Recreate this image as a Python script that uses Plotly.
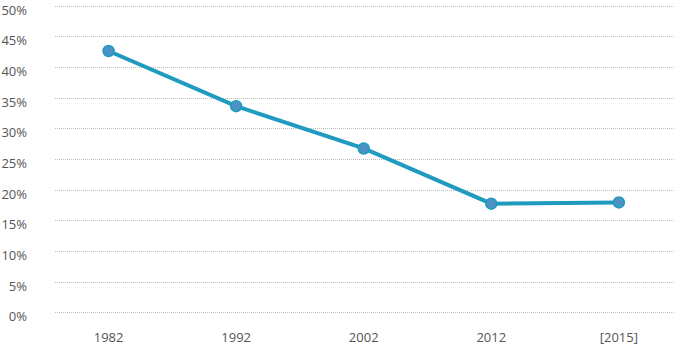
import plotly.graph_objects as go

years = ["1982", "1992", "2002", "2012", "[2015]"]
share = [42.7, 33.7, 26.8, 17.8, 18.0]
y_ticks = [0, 5, 10, 15, 20, 25, 30, 35, 40, 45, 50]
y_labels = [f"{v}%" for v in y_ticks]

fig = go.Figure()
fig.add_trace(go.Scatter(
    x=years, y=share, mode="lines+markers",
    line=dict(color="#1f9bbf", width=4),
    marker=dict(size=11, color="#4a93c4", line=dict(color="#1f9bbf", width=1.5)),
    hoverinfo="skip",
))

font = dict(family="Open Sans", size=13, color="#555555")
fig.update_layout(
    width=678, height=356,
    margin=dict(l=55, r=3, t=5, b=42),
    paper_bgcolor="white", plot_bgcolor="white",
    showlegend=False,
    font=font,
    xaxis=dict(type="category", range=[-0.42, 4.44], showgrid=False, zeroline=False,
               showline=False, ticks="", ticklabelstandoff=14, tickfont=font,
               automargin=False),
    yaxis=dict(range=[-0.2, 50.2], tickvals=y_ticks, ticktext=y_labels, showgrid=True,
               gridcolor="#bdbdbd", griddash="1px,1px", gridwidth=1, zeroline=False,
               showline=False, ticks="", ticklabelstandoff=27, ticklabelshift=4,
               tickfont=font, automargin=False),
)
fig.write_html("out.html")
